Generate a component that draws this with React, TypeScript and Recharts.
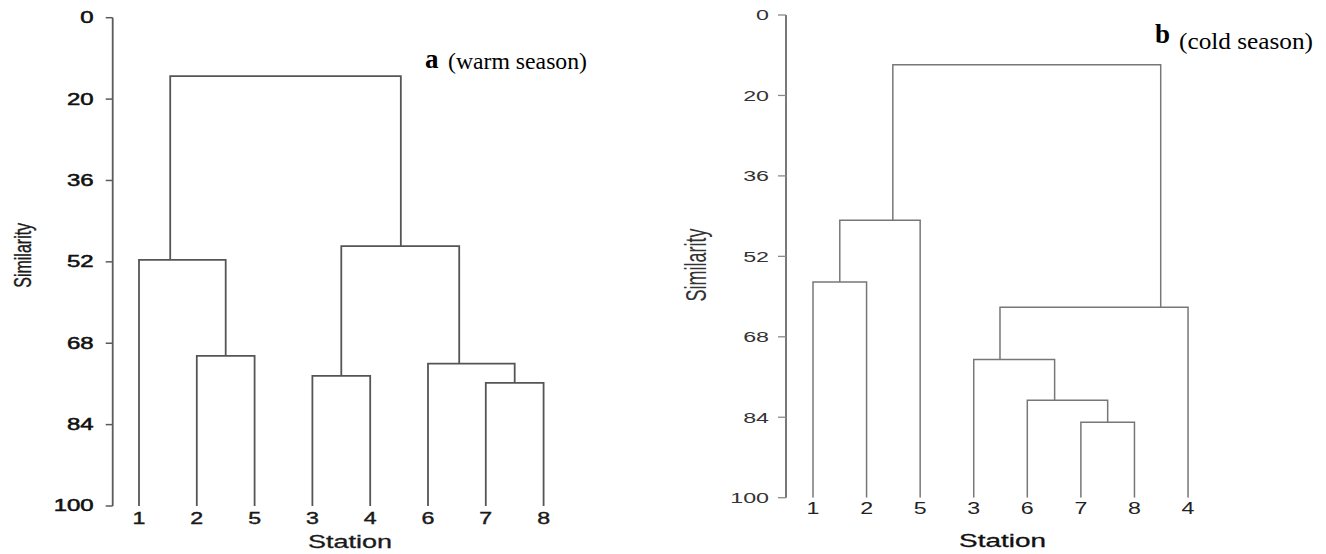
import React from 'react';
import { LineChart, Line, XAxis, YAxis } from 'recharts';

// ---------- data ----------
const similarityTicks = [4, 20, 36, 52, 68, 84, 100];
const similarityTickLabels = ['0', '20', '36', '52', '68', '84', '100'];
const leafSimilarity = 100;

// (a) warm season
const warmStations = ['1', '2', '5', '3', '4', '6', '7', '8'];
const warmMergeChildren: [string, string][] = [
  ['2', '5'],
  ['3', '4'],
  ['7', '8'],
  ['6', 'm2'],
  ['1', 'm0'],
  ['m1', 'm3'],
  ['m4', 'm5'],
];
const warmMergeHeights = [70.5, 74.4, 75.8, 72.0, 51.6, 48.9, 15.5];
const warmMergePositions = [2.5, 4.5, 7.5, 6.54, 1.54, 5.53, 3.53];

// (b) cold season
const coldStations = ['1', '2', '5', '3', '6', '7', '8', '4'];
const coldMergeChildren: [string, string][] = [
  ['1', '2'],
  ['7', '8'],
  ['6', 'm1'],
  ['3', 'm2'],
  ['m0', '5'],
  ['m3', '4'],
  ['m4', 'm5'],
];
const coldMergeHeights = [57.1, 85.0, 80.6, 72.5, 44.8, 62.1, 13.9];
const coldMergePositions = [1.5, 6.5, 5.51, 4.49, 2.49, 7.49, 4.99];

// ---------- helpers ----------
type Pt = { x: number; y: number };

function buildLinks(
  stations: string[],
  children: [string, string][],
  heights: number[],
  positions: number[]
): Pt[][] {
  const nodeX = (id: string) =>
    id.startsWith('m') ? positions[Number(id.slice(1))] : stations.indexOf(id) + 1;
  const nodeY = (id: string) =>
    id.startsWith('m') ? heights[Number(id.slice(1))] : leafSimilarity;
  return children.map(([a, b], i) => [
    { x: nodeX(a), y: nodeY(a) },
    { x: nodeX(a), y: heights[i] },
    { x: nodeX(b), y: heights[i] },
    { x: nodeX(b), y: nodeY(b) },
  ]);
}

const SANS = '"Liberation Sans", Arial, sans-serif';
const SERIF = '"Liberation Serif", "Times New Roman", serif';

const makeYTick = (fill: string, size: number, sx: number, sw: number) => (props: any) => {
  const { x, y, payload } = props;
  const idx = similarityTicks.indexOf(payload.value);
  return (
    <text
      transform={`translate(${x},${y}) scale(${sx},1)`}
      textAnchor="end"
      dominantBaseline="central"
      fontFamily={SANS}
      fontSize={size}
      fill={fill}
      stroke={sw > 0 ? fill : 'none'}
      strokeWidth={sw}
    >
      {similarityTickLabels[idx]}
    </text>
  );
};

const makeXTick = (stations: string[], fill: string, size: number, sx: number, sw: number) => (props: any) => {
  const { x, y, payload } = props;
  return (
    <text
      transform={`translate(${x},${y}) scale(${sx},1)`}
      textAnchor="middle"
      dominantBaseline="central"
      fontFamily={SANS}
      fontSize={size}
      fill={fill}
      stroke={sw > 0 ? fill : 'none'}
      strokeWidth={sw}
    >
      {stations[Math.round(payload.value) - 1]}
    </text>
  );
};

const leafTicks = [1, 2, 3, 4, 5, 6, 7, 8];

// ---------- panels ----------
function WarmPanel() {
  const links = buildLinks(warmStations, warmMergeChildren, warmMergeHeights, warmMergePositions);
  return (
    <LineChart
      width={663}
      height={554}
      margin={{ top: 17.7, right: 93.4, bottom: 18, left: 0 }}
    >
      <XAxis
        type="number"
        dataKey="x"
        domain={[0.545, 8.45]}
        ticks={leafTicks}
        allowDataOverflow
        axisLine={false}
        tickLine={false}
        tickSize={0}
        tickMargin={12.5}
        height={30}
        tick={makeXTick(warmStations, '#1a1a1a', 16, 1.45, 0.4)}
      />
      <YAxis
        type="number"
        dataKey="y"
        domain={[4, 100]}
        reversed
        ticks={similarityTicks}
        allowDataOverflow
        width={112.7}
        axisLine={{ stroke: '#5a5a5a', strokeWidth: 1.8 }}
        tickLine={{ stroke: '#5a5a5a', strokeWidth: 1.5 }}
        tickSize={7}
        tickMargin={12}
        tick={makeYTick('#111', 16, 1.5, 0.5)}
      />
      {links.map((pts, i) => (
        <Line
          key={i}
          data={pts}
          dataKey="y"
          type="linear"
          stroke="#555"
          strokeWidth={1.8}
          dot={false}
          activeDot={false}
          isAnimationActive={false}
        />
      ))}
      <text
        transform="translate(22.5,255.3) scale(1.45,1) rotate(-90)"
        textAnchor="middle"
        dominantBaseline="central"
        fontFamily={SANS}
        fontSize={16}
        fill="#1a1a1a"
        stroke="#1a1a1a"
        strokeWidth={0.25}
      >
        Similarity
      </text>
      <text
        transform="translate(350,548) scale(1.5,1)"
        textAnchor="middle"
        fontFamily={SANS}
        fontSize={18}
        fill="#1a1a1a"
        stroke="#1a1a1a"
        strokeWidth={0.3}
      >
        Station
      </text>
      <text x={425} y={68} fontFamily={SERIF} fontWeight="bold" fontSize={27} fill="#000">
        a
      </text>
      <text
        x={448}
        y={69}
        fontFamily={SERIF}
        fontSize={23}
        fill="#000"
        textLength={139}
        lengthAdjust="spacingAndGlyphs"
      >
        (warm season)
      </text>
    </LineChart>
  );
}

function ColdPanel() {
  const links = buildLinks(coldStations, coldMergeChildren, coldMergeHeights, coldMergePositions);
  return (
    <LineChart
      width={663}
      height={554}
      margin={{ top: 15, right: 116, bottom: 26.3, left: 0 }}
    >
      <XAxis
        type="number"
        dataKey="x"
        domain={[0.496, 8.41]}
        ticks={leafTicks}
        allowDataOverflow
        axisLine={false}
        tickLine={false}
        tickSize={0}
        tickMargin={10.8}
        height={30}
        tick={makeXTick(coldStations, '#222', 16, 1.45, 0)}
      />
      <YAxis
        type="number"
        dataKey="y"
        domain={[4, 100]}
        reversed
        ticks={similarityTicks}
        allowDataOverflow
        width={123}
        axisLine={{ stroke: '#6a6a6a', strokeWidth: 1.8 }}
        tickLine={{ stroke: '#8a8a8a', strokeWidth: 1.3 }}
        tickSize={8}
        tickMargin={9}
        tick={makeYTick('#333', 15.5, 1.5, 0)}
      />
      {links.map((pts, i) => (
        <Line
          key={i}
          data={pts}
          dataKey="y"
          type="linear"
          stroke="#777"
          strokeWidth={1.5}
          dot={false}
          activeDot={false}
          isAnimationActive={false}
        />
      ))}
      <text
        transform="translate(32.8,265) scale(1.6,1) rotate(-90)"
        textAnchor="middle"
        dominantBaseline="central"
        fontFamily={SANS}
        fontSize={18}
        fill="#333"
      >
        Similarity
      </text>
      <text
        transform="translate(339.5,547) scale(1.55,1)"
        textAnchor="middle"
        fontFamily={SANS}
        fontSize={18}
        fill="#111"
        stroke="#111"
        strokeWidth={0.3}
      >
        Station
      </text>
      <text x={492} y={43} fontFamily={SERIF} fontWeight="bold" fontSize={27} fill="#000">
        b
      </text>
      <text
        x={516}
        y={49}
        fontFamily={SERIF}
        fontSize={23}
        fill="#000"
        textLength={134}
        lengthAdjust="spacingAndGlyphs"
      >
        (cold season)
      </text>
    </LineChart>
  );
}

export default function App() {
  return (
    <div
      style={{
        position: 'absolute',
        left: 0,
        top: 0,
        width: 1326,
        height: 554,
        background: '#fff',
        overflow: 'hidden',
      }}
    >
      <div style={{ position: 'absolute', left: 0, top: 0 }}>
        <WarmPanel />
      </div>
      <div style={{ position: 'absolute', left: 663, top: 0 }}>
        <ColdPanel />
      </div>
    </div>
  );
}
